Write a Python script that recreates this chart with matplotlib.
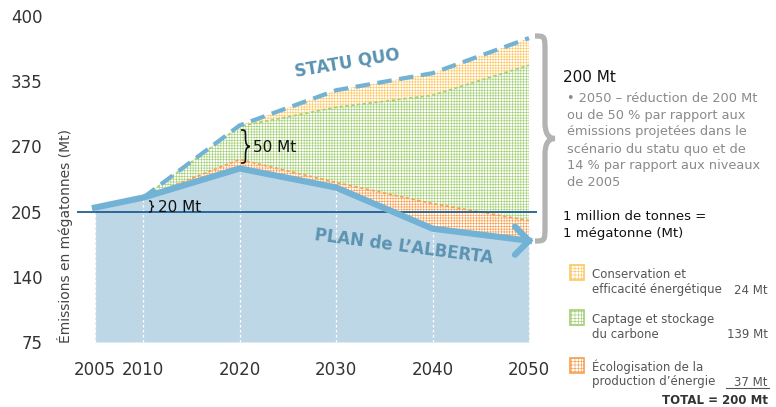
import numpy as np
import matplotlib
matplotlib.use("Agg")
import matplotlib.pyplot as plt
from matplotlib.path import Path
from matplotlib.patches import PathPatch, Rectangle
from matplotlib.transforms import IdentityTransform

# données (Mt)
years = [2005, 2010, 2020, 2030, 2040, 2050]
plan = [209, 219, 248, 229, 188, 176]
sq_years = [2010, 2020, 2030, 2040, 2050]
statu_quo = [219, 291, 326, 343, 378]
ccs_top = [219, 290, 309, 321, 351]
ecolo_top = [219, 257, 234, 213, 196]
niveau_2005 = 205

yticks = [75, 140, 205, 270, 335, 400]
legend_labels = [("Conservation et", "efficacité énergétique"),
                 ("Captage et stockage", "du carbone"),
                 ("Écologisation de la", "production d’énergie")]
legend_values = ["24 Mt", "139 Mt", "37 Mt"]
note_lines = ["• 2050 – réduction de 200 Mt",
              "ou de 50 % par rapport aux",
              "émissions projetées dans le",
              "scénario du statu quo et de",
              "14 % par rapport aux niveaux",
              "de 2005"]

W, H = 776, 407
plt.rcParams["font.family"] = ["DejaVu Sans"]
plt.rcParams["hatch.linewidth"] = 0.45

fig = plt.figure(figsize=(W / 100, H / 100), dpi=100)
ax = fig.add_axes([77 / W, (H - 342) / H, 460 / W, 326 / H])

pxyr = (529 - 95) / 45
ax.set_xlim(2005 - 18 / pxyr, 2050 + 8 / pxyr)
ax.set_ylim(75, 400)

blue_line = "#72b2d4"
blue_fill = "#bdd7e7"
c_cons = "#fcc865"
c_ccs = "#a3d075"
c_eco = "#f7a050"

p = np.interp(sq_years, years, plan)
ax.fill_between(years, 75, plan, color=blue_fill, lw=0, zorder=1)
ax.fill_between(sq_years, p, ecolo_top, facecolor="white", edgecolor=c_eco,
                hatch="++++++", lw=0, zorder=1)
ax.fill_between(sq_years, ecolo_top, ccs_top, facecolor="white", edgecolor=c_ccs,
                hatch="++++++", lw=0, zorder=1)
ax.fill_between(sq_years, ccs_top, statu_quo, facecolor="white", edgecolor=c_cons,
                hatch="++++++", lw=0, zorder=1)
ax.plot(sq_years, ecolo_top, color=c_eco, lw=1.2, ls=(0, (2, 1.5)), zorder=2)
ax.plot(sq_years, ccs_top, color=c_ccs, lw=1.2, ls=(0, (2, 1.5)), zorder=2)

ax.vlines(years, 75, plan, colors="white", linestyles=(0, (2, 2)), lw=0.9, zorder=2)
ax.axhline(niveau_2005, color="#1f5f8f", lw=1.3, zorder=3)

ax.plot(years, plan, color=blue_line, lw=4.5, solid_joinstyle="round", zorder=4)
ax.plot(sq_years, statu_quo, color=blue_line, lw=3, ls=(0, (3.5, 1.8)),
        dash_capstyle="butt", zorder=5)

# pointe de flèche en chevron au bout du plan (bras de 14 px)
arm_x = 14 / pxyr
arm_y = 14 * (400 - 75) / 326
ax.plot([years[-1] - arm_x, years[-1], years[-1] - arm_x],
        [plan[-1] + arm_y, plan[-1], plan[-1] - arm_y],
        color=blue_line, lw=4.5, solid_joinstyle="miter", solid_capstyle="round",
        clip_on=False, zorder=4)

for s in ax.spines.values():
    s.set_visible(False)
ax.set_xticks(years)
ax.set_yticks(yticks)
ax.tick_params(length=0, labelsize=12, colors="#333333")
ax.tick_params(axis="y", pad=25)
ax.tick_params(axis="x", pad=14)


def T(x, y, s, **kw):
    kw.setdefault("va", "center")
    return fig.text(x / W, 1 - y / H, s, **kw)


def brace(x0, w, yt, yb, lw, color, q=None):
    ym = (yt + yb) / 2
    if q is None:
        q = (yb - yt) / 4
    xm = x0 + w / 2
    pts = [(x0, yt), (xm, yt), (xm, yt), (xm, yt + q),
           (xm, ym - q), (xm, ym - q / 3), (xm + w / 6, ym), (x0 + w, ym),
           (xm + w / 6, ym), (xm, ym + q / 3), (xm, ym + q),
           (xm, yb - q), (xm, yb), (xm, yb), (x0, yb)]
    codes = [Path.MOVETO, Path.CURVE4, Path.CURVE4, Path.CURVE4,
             Path.LINETO, Path.CURVE4, Path.CURVE4, Path.CURVE4,
             Path.CURVE4, Path.CURVE4, Path.CURVE4,
             Path.LINETO, Path.CURVE4, Path.CURVE4, Path.CURVE4]
    verts = [(x, H - y) for x, y in pts]
    fig.add_artist(PathPatch(Path(verts, codes), fill=False, lw=lw, ec=color,
                             capstyle="butt", transform=IdentityTransform()))


T(65, 236, "Émissions en mégatonnes (Mt)", rotation=90, ha="center",
  fontsize=10, color="#444444")

T(347, 63, "STATU QUO", rotation=9.5, ha="center", fontsize=12,
  fontweight="bold", color="#5b93b1")
T(404, 247, "PLAN de L’ALBERTA", rotation=-7.5, ha="center", fontsize=12,
  fontweight="bold", color="#5b93b1")

brace(241, 9, 130, 163, 1.2, "#111111")
T(253, 147, "50 Mt", fontsize=11, color="#111111")
brace(149, 5, 201, 212, 1.0, "#111111")
T(158, 207, "20 Mt", fontsize=11, color="#111111")

brace(535, 20, 36, 241, 3.8, "#b3b3b3", q=16)

T(563, 78, "200 Mt", fontsize=11, color="#111111")
for i, line in enumerate(note_lines):
    T(567, 98 + i * 17, line, fontsize=9.3, color="#8a8a8a")
T(563, 217, "1 million de tonnes =", fontsize=9.5, color="#111111")
T(563, 234, "1 mégatonne (Mt)", fontsize=9.5, color="#111111")

box_y = [265, 310, 358]
for (l1, l2), val, y, c in zip(legend_labels, legend_values, box_y,
                               [c_cons, c_ccs, c_eco]):
    fig.add_artist(Rectangle(((570) / W, 1 - (y + 15) / H), 14 / W, 15 / H,
                             transform=fig.transFigure, facecolor="white",
                             edgecolor=c, hatch="+++++", lw=1.2))
    T(592, y + 9, l1, fontsize=8.5, color="#555555")
    T(592, y + 24, l2, fontsize=8.5, color="#555555")
    T(768, y + 25, val, fontsize=8.5, ha="right", color="#555555")

fig.add_artist(plt.Line2D([726 / W, 769 / W], [1 - 388 / H, 1 - 388 / H],
                          transform=fig.transFigure, color="#555555", lw=0.8))
T(768, 400, "TOTAL = 200 Mt", fontsize=8.5, ha="right", fontweight="bold",
  color="#333333")

fig.savefig("out.png", dpi=100)
